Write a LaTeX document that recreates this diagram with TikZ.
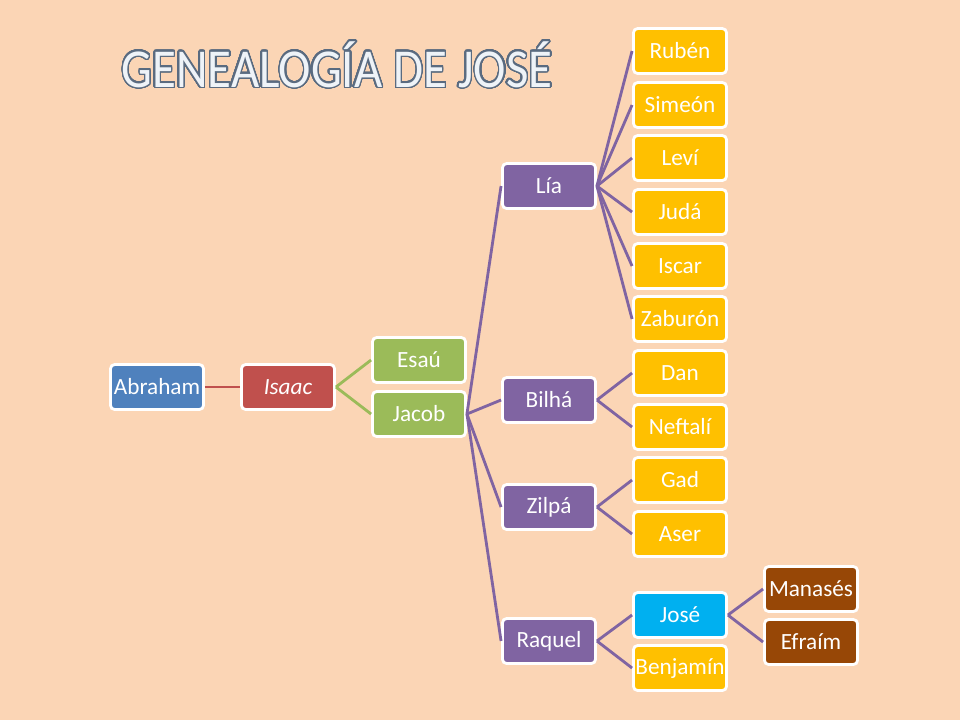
\documentclass[tikz,border=0pt]{standalone}
\usepackage{fontspec}
\setmainfont{Carlito}
\usepackage[copies]{contour}
\definecolor{fondo}{HTML}{FBD5B5}
\definecolor{azul}{HTML}{4F81BD}
\definecolor{rojo}{HTML}{C0504D}
\definecolor{verde}{HTML}{9BBB59}
\definecolor{morado}{HTML}{8064A2}
\definecolor{oro}{HTML}{FFC000}
\definecolor{celeste}{HTML}{00B0F0}
\definecolor{cafe}{HTML}{974706}
\definecolor{borde}{HTML}{5A6B80}
\definecolor{letra}{HTML}{EEF3F8}
\contourlength{0.45pt}

\begin{document}
\begin{tikzpicture}[x=0.01cm,y=-0.01cm,
  caja/.style={draw=white, line width=0.8pt, rounded corners=1.2pt, text=white,
    minimum width=0.93cm, minimum height=0.45cm, inner sep=0pt,
    font=\fontsize{6.6}{7}\selectfont},
  rama/.style={line width=0.8pt}]
\fill[fondo] (0,0) rectangle (960,720);
\node[anchor=base, text=letra, font=\fontsize{15.6}{18}\selectfont] (titulo) at (337,87)
  {\scalebox{0.89}[1]{\contour[40]{borde}{GENEALOGÍA DE JOSÉ}}};
% generaciones
\node[caja, fill=azul] (abraham) at (157,387) {Abraham};
\node[caja, fill=rojo] (isaac) at (288,387) {\itshape Isaac};
\node[caja, fill=verde] (esau) at (419,360) {Esaú};
\node[caja, fill=verde] (jacob) at (419,414) {Jacob};
% esposas
\node[caja, fill=morado] (lia) at (549,186) {Lía};
\node[caja, fill=morado] (bilha) at (549,400) {Bilhá};
\node[caja, fill=morado] (zilpa) at (549,507) {Zilpá};
\node[caja, fill=morado] (raquel) at (549,641) {Raquel};
% hijos
\node[caja, fill=oro] (ruben) at (680,51) {Rubén};
\node[caja, fill=oro] (simeon) at (680,105) {Simeón};
\node[caja, fill=oro] (levi) at (680,158) {Leví};
\node[caja, fill=oro] (juda) at (680,212) {Judá};
\node[caja, fill=oro] (iscar) at (680,266) {Iscar};
\node[caja, fill=oro] (zaburon) at (680,319) {Zaburón};
\node[caja, fill=oro] (dan) at (680,373) {Dan};
\node[caja, fill=oro] (neftali) at (680,427) {Neftalí};
\node[caja, fill=oro] (gad) at (680,480) {Gad};
\node[caja, fill=oro] (aser) at (680,534) {Aser};
\node[caja, fill=celeste] (jose) at (680,615) {José};
\node[caja, fill=oro] (benjamin) at (680,668) {Benjamín};
% nietos
\node[caja, fill=cafe] (manases) at (811,589) {Manasés};
\node[caja, fill=cafe] (efraim) at (811,642) {Efraím};
% lineas
\path[draw,rama,rojo] (abraham.east) -- (isaac.west);
\foreach \h in {esau,jacob}
  \path[draw,rama,verde] (isaac.east) -- (\h.west);
\foreach \h in {lia,bilha,zilpa,raquel}
  \path[draw,rama,morado] (jacob.east) -- (\h.west);
\foreach \h in {ruben,simeon,levi,juda,iscar,zaburon}
  \path[draw,rama,morado] (lia.east) -- (\h.west);
\foreach \h in {dan,neftali}
  \path[draw,rama,morado] (bilha.east) -- (\h.west);
\foreach \h in {gad,aser}
  \path[draw,rama,morado] (zilpa.east) -- (\h.west);
\foreach \h in {jose,benjamin}
  \path[draw,rama,morado] (raquel.east) -- (\h.west);
\foreach \h in {manases,efraim}
  \path[draw,rama,morado] (jose.east) -- (\h.west);
\end{tikzpicture}
\end{document}
